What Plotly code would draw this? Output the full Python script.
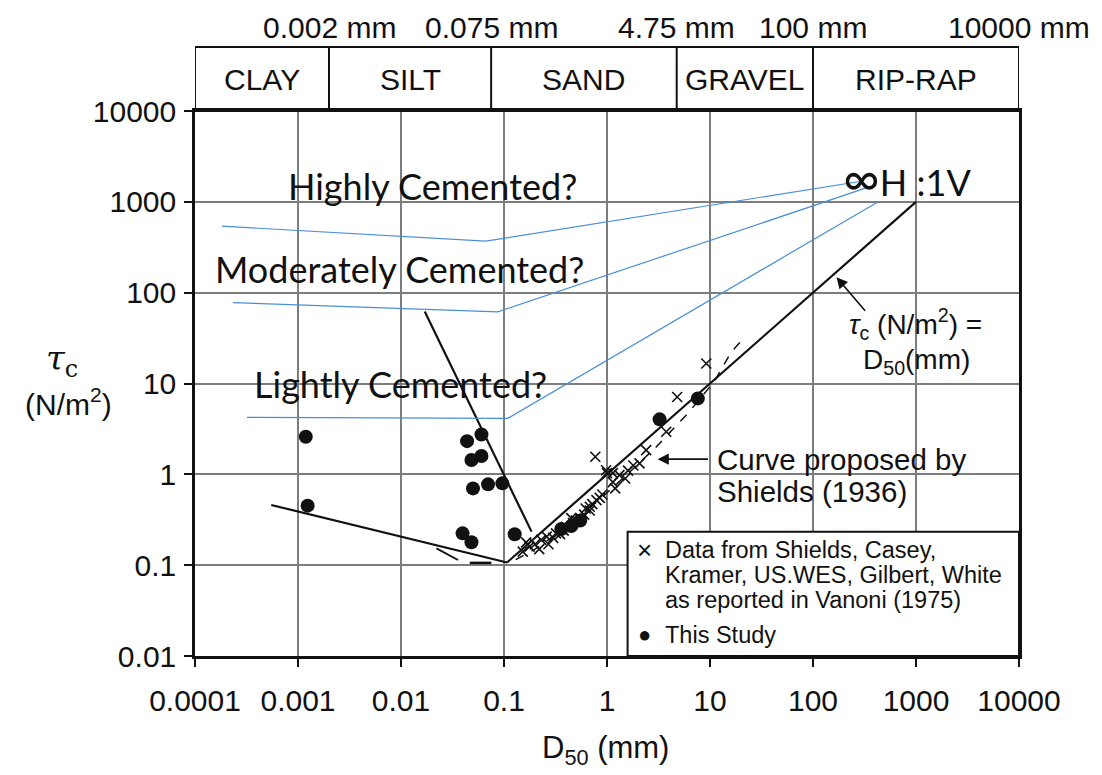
import numpy as np
import plotly.graph_objects as go

# ---- grain-size classes shown in the band above the plot (mm) ----
class_bounds = [0.0001, 0.002, 0.075, 4.75, 100, 10000]
class_names = ["CLAY", "SILT", "SAND", "GRAVEL", "RIP-RAP"]
bound_labels = ["0.002 mm", "0.075 mm", "4.75 mm", "100 mm", "10000 mm"]

# ---- axis ticks ----
x_ticks = [1e-4, 1e-3, 1e-2, 0.1, 1, 10, 100, 1000, 10000]
x_ticktext = ["0.0001", "0.001", "0.01", "0.1", "1", "10", "100", "1000", "10000"]
y_ticks = [0.01, 0.1, 1, 10, 100, 1000, 10000]
y_ticktext = ["0.01", "0.1", "1", "10", "100", "1000", "10000"]

# ---- this study (filled circles) ----
study_d50 = [0.00119, 0.00124, 0.0438, 0.0604, 0.0483, 0.0604, 0.050, 0.070,
             0.0964, 0.0396, 0.0483, 0.127, 3.24, 7.62, 0.36, 0.45, 0.55]
study_tau = [2.59, 0.452, 2.32, 2.75, 1.44, 1.59, 0.70, 0.776,
             0.796, 0.224, 0.179, 0.219, 4.03, 6.85, 0.25, 0.27, 0.31]

# ---- Shields, Casey, Kramer, US.WES, Gilbert, White (crosses) ----
lit_d50 = [0.152, 0.164, 0.177, 0.20, 0.22, 0.23, 0.26, 0.27, 0.30, 0.32,
           0.35, 0.38, 0.40, 0.45, 0.467, 0.50, 0.55, 0.60, 0.68, 0.68,
           0.77, 0.79, 0.85, 0.90, 0.98, 1.00, 1.14, 1.14, 1.20, 1.32,
           1.50, 2.07, 2.40, 3.76, 4.80, 9.20, 0.62, 0.72, 1.60, 1.80]
lit_tau = [0.141, 0.178, 0.160, 0.170, 0.150, 0.190, 0.206, 0.170, 0.200, 0.224,
           0.220, 0.240, 0.265, 0.330, 0.290, 0.310, 0.330, 0.360, 0.400, 0.440,
           1.56, 0.520, 0.550, 0.600, 1.11, 1.03, 1.03, 0.820, 0.700, 0.980,
           0.900, 1.32, 1.85, 2.94, 7.10, 16.6, 0.42, 0.47, 1.10, 1.25]

# ---- bounding lines ----
fine_d50 = [5.5e-4, 0.107]
fine_tau = [0.46, 0.107]
silt_d50 = [0.017, 0.185]
silt_tau = [62.0, 0.234]
equal_d50 = [0.107, 1000]
equal_tau = [0.107, 1000]
shields_d50 = [0.13, 0.2, 0.4, 0.8, 1.5, 3.0, 6.0, 11.0, 16.0, 21.0]
shields_tau = [0.115, 0.15, 0.26, 0.50, 0.95, 2.0, 4.6, 10.5, 22.0, 31.0]
tail_d50 = [0.0221, 0.0358]
tail_tau = [0.153, 0.114]
dash_d50 = [0.0465, 0.0755]
dash_tau = [0.106, 0.106]

# ---- cemented-soil envelopes ----
high_d50 = [1.83e-4, 0.0664, 294]
high_tau = [539, 369, 1686]
mod_d50 = [2.34e-4, 0.0869, 352]
mod_tau = [77.6, 61.5, 1459]
light_d50 = [3.19e-4, 0.1087, 422]
light_tau = [4.24, 4.13, 991]

BLACK = "#111111"
GRID = "#7d7d7d"
BLUE = "#4a8fd6"
SANS = "Liberation Sans, Arial, sans-serif"
CALI = "Lato, Carlito, sans-serif"

fig = go.Figure()

def line(xs, ys, color=BLACK, width=2.2, dash="solid"):
    fig.add_trace(go.Scatter(x=xs, y=ys, mode="lines",
                             line=dict(color=color, width=width, dash=dash),
                             hoverinfo="skip", showlegend=False))

line(fine_d50, fine_tau)
line(silt_d50, silt_tau)
line(equal_d50, equal_tau)
line(shields_d50, shields_tau, width=1.5, dash="dash")
line(tail_d50, tail_tau, width=1.8)
line(dash_d50, dash_tau, width=2.5)

fig.add_trace(go.Scatter(x=lit_d50, y=lit_tau, mode="markers",
                         marker=dict(symbol="x-thin-open", size=10, color=BLACK,
                                     line=dict(color=BLACK, width=1.6)),
                         showlegend=False))
fig.add_trace(go.Scatter(x=study_d50, y=study_tau, mode="markers",
                         marker=dict(symbol="circle", size=14, color=BLACK),
                         showlegend=False))

for xs, ys in [(high_d50, high_tau), (mod_d50, mod_tau), (light_d50, light_tau)]:
    line(xs, ys, color=BLUE, width=1.2)

shapes = []
# class band above the plot
band_top = 1.1175
shapes.append(dict(type="rect", xref="x", yref="paper", x0=class_bounds[0], x1=class_bounds[-1],
                   y0=1.0, y1=band_top, line=dict(color=BLACK, width=2), layer="above"))
for b in class_bounds[1:-1]:
    shapes.append(dict(type="line", xref="x", yref="paper", x0=b, x1=b, y0=1.0, y1=band_top,
                       line=dict(color=BLACK, width=2)))
# key box
shapes.append(dict(type="rect", xref="x", yref="y", x0=1.585, x1=10000, y0=0.01, y1=0.234,
                   fillcolor="white", line=dict(color=BLACK, width=2), layer="above"))

ann = []
lg = np.log10
for b, t in zip(class_bounds[1:], bound_labels):
    ann.append(dict(x=lg(b), y=1.1535, xref="x", yref="paper", text=t, showarrow=False,
                    font=dict(family=SANS, size=30, color=BLACK), xanchor="center", yanchor="middle"))
for i, name in enumerate(class_names):
    xm = (lg(class_bounds[i]) + lg(class_bounds[i + 1])) / 2
    ann.append(dict(x=xm, y=1.058, xref="x", yref="paper", text=name, showarrow=False,
                    font=dict(family=SANS, size=30, color=BLACK), xanchor="center", yanchor="middle"))

def txt(x, y, text, size=29, family=SANS, anchor="center", color=BLACK):
    ann.append(dict(x=x, y=y, xref="x", yref="y", text=text, showarrow=False,
                    font=dict(family=family, size=size, color=color),
                    xanchor=anchor, yanchor="middle"))

# cemented envelope labels
txt(-1.692, 3.172, "Highly Cemented?", size=36, family=CALI)
txt(-2.012, 2.266, "Moderately Cemented?", size=36, family=CALI)
txt(-2.007, 0.990, "Lightly Cemented?", size=36, family=CALI)
txt(2.911, 3.27, "<span style='font-size:50px'>∞</span>H :1V", size=36, family=CALI)

# curve labels
txt(1.044, 0.168, "Curve proposed by", anchor="left", size=29.5)
txt(1.044, -0.191, "Shields (1936)", anchor="left", size=29.5)
txt(2.998, 1.653, "<i>τ</i><sub>c</sub> (N/m<sup>2</sup>) =", size=28)
txt(3.0, 1.246, "D<sub>50</sub>(mm)", size=28)

# key entries
txt(0.365, -0.833, "×", size=26)
txt(0.539, -0.833, "Data from Shields, Casey,", size=23.5, anchor="left")
txt(0.539, -1.108, "Kramer, US.WES, Gilbert, White", size=23.5, anchor="left")
txt(0.539, -1.383, "as reported in Vanoni (1975)", size=23.5, anchor="left")
txt(0.365, -1.768, "●", size=22)
txt(0.539, -1.768, "This Study", size=23.5, anchor="left")

# arrows
ann.append(dict(x=lg(3.1), y=lg(1.47), ax=lg(9.9), ay=lg(1.47), xref="x", yref="y",
                axref="x", ayref="y", text="", showarrow=True, arrowhead=2, arrowsize=1.4,
                arrowwidth=1.6, arrowcolor=BLACK))
ann.append(dict(x=lg(169), y=lg(148), ax=lg(330), ay=lg(61), xref="x", yref="y",
                axref="x", ayref="y", text="", showarrow=True, arrowhead=2, arrowsize=1.4,
                arrowwidth=1.6, arrowcolor=BLACK))

# axis titles
ann.append(dict(x=-0.162, y=0.543, xref="paper", yref="paper", showarrow=False,
                xanchor="center", yanchor="middle",
                text="<i>τ</i><sub>c</sub>", font=dict(family="DejaVu Serif, serif", size=34, color=BLACK)))
ann.append(dict(x=-0.154, y=0.466, xref="paper", yref="paper", showarrow=False,
                xanchor="center", yanchor="middle",
                text="(N/m<sup>2</sup>)", font=dict(family=SANS, size=30, color=BLACK)))
ann.append(dict(x=0.4976, y=-0.1725, xref="paper", yref="paper", showarrow=False,
                xanchor="center", yanchor="middle",
                text="D<sub>50</sub> (mm)", font=dict(family=SANS, size=31, color=BLACK)))

axis_common = dict(type="log", showgrid=True, gridcolor=GRID, gridwidth=2,
                   showline=True, linecolor=BLACK, linewidth=2.5, mirror=True,
                   ticks="outside", ticklen=8, tickwidth=2, tickcolor=BLACK,
                   tickfont=dict(family=SANS, size=30, color=BLACK), zeroline=False)

fig.update_layout(
    width=1102, height=775, autosize=False,
    margin=dict(l=195, r=83, t=111, b=119),
    paper_bgcolor="white", plot_bgcolor="white",
    xaxis=dict(range=[-4, 4], tickvals=x_ticks, ticktext=x_ticktext,
               ticklabelstandoff=8, **axis_common),
    yaxis=dict(range=[-2, 4], tickvals=y_ticks, ticktext=y_ticktext,
               ticklabelstandoff=2, **axis_common),
    shapes=shapes, annotations=ann, showlegend=False,
)

fig.write_html("out.html")
